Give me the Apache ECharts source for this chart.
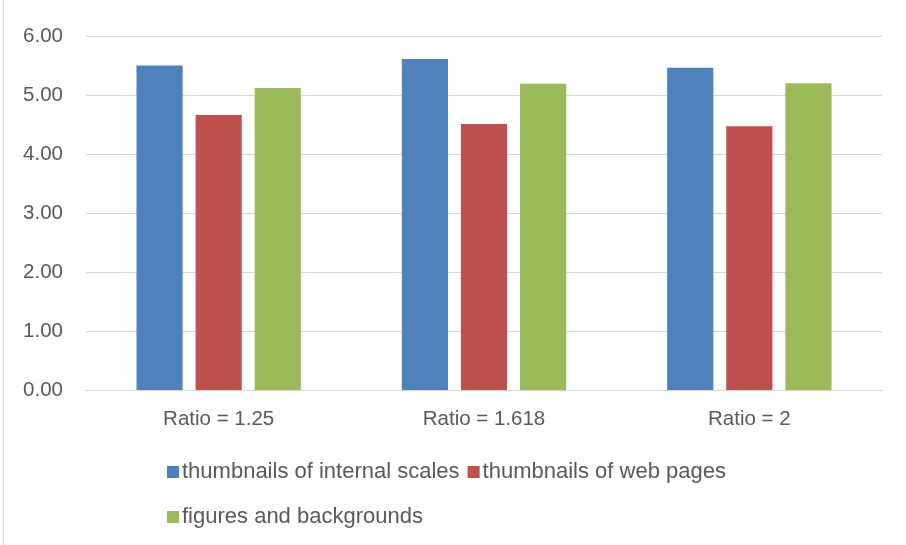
<!DOCTYPE html>
<html>
<head>
<meta charset="utf-8">
<script src="https://cdn.jsdelivr.net/npm/echarts@6/dist/echarts.min.js"></script>
<style>
  html, body { margin: 0; padding: 0; background: #fff; }
  #chart { width: 906px; height: 545px; }
</style>
</head>
<body>
<div id="chart"></div>
<script>
// categories and series values
const categories = ['Ratio = 1.25', 'Ratio = 1.618', 'Ratio = 2']
const seriesNames = ['thumbnails of internal scales', 'thumbnails of web pages', 'figures and backgrounds']
const internalScales = [5.50, 5.61, 5.46]
const webPages = [4.66, 4.51, 4.47]
const figuresBackgrounds = [5.12, 5.19, 5.20]
const colors = ['#4f81bd', '#c0504d', '#9bbb59']

const font = '"Liberation Sans", "DejaVu Sans", sans-serif'
const textColor = '#595959'

const chart = echarts.init(document.getElementById('chart'))

const legendBase = {
  left: 162,
  icon: 'rect',
  itemWidth: 12,
  itemHeight: 12,
  itemGap: 8,
  textStyle: { color: textColor, fontSize: 22, fontFamily: font, padding: [0, 0, 0, -2] },
  selectedMode: false
}

chart.setOption({
  animation: false,
  color: colors,
  grid: { left: 86, right: 24, top: 36, bottom: 155 },
  legend: [
    Object.assign({}, legendBase, { top: 456, data: [seriesNames[0], seriesNames[1]] }),
    Object.assign({}, legendBase, { top: 501, data: [seriesNames[2]] })
  ],
  xAxis: {
    type: 'category',
    data: categories,
    axisTick: { show: false },
    axisLine: { lineStyle: { color: '#d9d9d9', width: 1 } },
    axisLabel: { color: textColor, fontSize: 20.5, fontFamily: font, margin: 19 }
  },
  yAxis: {
    type: 'value',
    min: 0,
    max: 6,
    interval: 1,
    axisLine: { show: false },
    axisTick: { show: false },
    splitLine: { lineStyle: { color: '#d9d9d9', width: 1 } },
    axisLabel: {
      color: textColor, fontSize: 20.5, fontFamily: font, margin: 23,
      formatter: v => v.toFixed(2)
    }
  },
  series: [
    { name: seriesNames[0], type: 'bar', data: internalScales, barWidth: '17.4%', barGap: '28%' },
    { name: seriesNames[1], type: 'bar', data: webPages, barWidth: '17.4%', barGap: '28%' },
    { name: seriesNames[2], type: 'bar', data: figuresBackgrounds, barWidth: '17.4%', barGap: '28%' }
  ],
  graphic: [{
    type: 'line',
    shape: { x1: 3.5, y1: 0, x2: 3.5, y2: 545 },
    style: { stroke: '#d9d9d9', lineWidth: 1 }
  }]
})
</script>
</body>
</html>
